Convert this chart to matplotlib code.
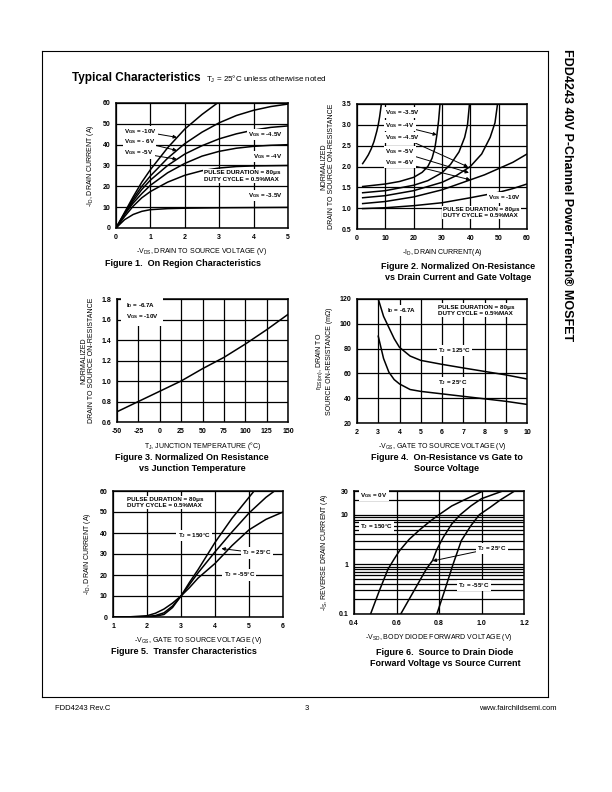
import matplotlib
matplotlib.use('Agg')
import matplotlib.pyplot as plt
from matplotlib.lines import Line2D

plt.rcParams['font.family'] = ['Liberation Sans', 'DejaVu Sans']
plt.rcParams['font.weight'] = 'bold'
plt.rcParams['mathtext.default'] = 'regular'
plt.rcParams['axes.unicode_minus'] = False

# ---- Figure 1: on region characteristics
f1_x = [0, 0.25, 0.5, 0.75, 1, 1.5, 2, 2.5, 3, 3.5, 4, 4.5, 5]
f1_10v_x = [0, 0.25, 0.5, 0.75, 1, 1.5, 2, 2.5, 2.95]
f1_10v = [0, 7.5, 15, 22, 28, 38.5, 47.5, 54.5, 60]
f1_6v = [0, 7, 14, 20, 25, 33.5, 40.5, 46, 50.5, 54, 56.5, 58.3, 59.5]
f1_5v = [0, 6.8, 13, 18.5, 23, 30, 35.5, 39.5, 42.8, 45.2, 47, 48.3, 49]
f1_45v = [0, 6.5, 12, 16.5, 20.5, 26.5, 31, 34.5, 36.8, 38.3, 39.2, 39.7, 40]
f1_4v = [0, 5.5, 10.5, 14.5, 17.5, 22, 25.3, 27.5, 28.8, 29.5, 29.8, 29.9, 30]
f1_35v = [0, 4, 6.5, 8, 8.8, 9.3, 9.5, 9.6, 9.7, 9.75, 9.8, 9.85, 9.9]

# ---- Figure 2: normalized on-resistance vs drain current
f2_35v_x = [2, 3, 4, 5, 6, 7, 7.5, 8, 8.3, 8.6]
f2_35v = [2.07, 2.17, 2.28, 2.42, 2.6, 2.85, 3.0, 3.2, 3.35, 3.5]
f2_4v_x = [2, 10, 15, 20, 23, 25, 26.5, 27.5, 28.2, 28.8, 29.3]
f2_4v = [1.52, 1.58, 1.64, 1.74, 1.86, 2.0, 2.2, 2.45, 2.76, 3.1, 3.5]
f2_45v_x = [2, 10, 20, 25, 30, 33, 36, 38, 39, 39.7]
f2_45v = [1.37, 1.42, 1.55, 1.66, 1.85, 2.05, 2.35, 2.7, 3.0, 3.5]
f2_5v_x = [2, 10, 20, 30, 35, 40, 44, 47, 48.7, 49.6]
f2_5v = [1.25, 1.3, 1.42, 1.62, 1.78, 2.0, 2.3, 2.7, 3.05, 3.5]
f2_6v_x = [2, 10, 20, 30, 40, 45, 50, 55, 60]
f2_6v = [1.11, 1.16, 1.27, 1.44, 1.68, 1.8, 1.95, 2.1, 2.3]
f2_10v_x = [2, 10, 20, 30, 40, 50, 55, 60]
f2_10v = [0.99, 1.01, 1.06, 1.13, 1.25, 1.38, 1.47, 1.58]

# ---- Figure 3: normalized on-resistance vs temperature
f3_t = [-50, -25, 0, 25, 50, 75, 100, 125, 150]
f3_r = [0.70, 0.80, 0.90, 1.0, 1.12, 1.23, 1.36, 1.50, 1.65]

# ---- Figure 4: on-resistance vs gate voltage
f4_vgs = [3, 3.25, 3.5, 3.75, 4, 4.5, 5, 6, 7, 8, 9, 10]
f4_125 = [120, 106, 97, 88, 81, 74, 70.5, 67.3, 64.4, 61.6, 58.8, 55.5]
f4_25 = [90, 72, 61, 55, 51.5, 47, 45.5, 43.5, 41.5, 39.5, 37.5, 35]

# ---- Figure 5: transfer characteristics
f5_150_x = [1, 1.5, 2, 2.25, 2.5, 2.75, 3, 3.25, 3.5, 3.75, 4, 4.5, 5, 5.5, 6]
f5_150 = [0, 0.1, 0.6, 1.8, 3.8, 6.6, 10, 14, 18.5, 22, 25.5, 34, 41.5, 46.5, 50]
f5_25_x = [1, 1.5, 2, 2.25, 2.5, 2.75, 3, 3.25, 3.5, 3.75, 4, 4.5, 5, 5.5, 5.75]
f5_25 = [0, 0, 0.2, 0.7, 2, 5.2, 10, 15.5, 21, 26, 31, 40.5, 49.5, 57, 60]
f5_m55_x = [1, 1.5, 2, 2.25, 2.5, 2.75, 3, 3.25, 3.5, 3.75, 4, 4.5, 5, 5.15]
f5_m55 = [0, 0, 0.1, 0.4, 1.2, 4.5, 10, 16.5, 22.5, 29, 35.5, 47, 57, 60]

# ---- Figure 6: body diode forward voltage
f6_150_v = [0.478, 0.52, 0.56, 0.59, 0.615, 0.66, 0.71, 0.76, 0.80, 0.86, 0.92, 1.0, 1.01]
f6_150_i = [0.1, 0.3, 0.8, 1.3, 1.9, 3.2, 5, 7.5, 10, 15, 20, 29, 30]
f6_25_v = [0.62, 0.66, 0.70, 0.74, 0.77, 0.79, 0.82, 0.86, 0.90, 0.95, 1.0, 1.1]
f6_25_i = [0.1, 0.2, 0.4, 0.8, 1.2, 2, 3.5, 6.5, 10, 15, 21, 30]
f6_m55_v = [0.79, 0.827, 0.866, 0.905, 0.95, 0.99, 1.04, 1.09, 1.156]
f6_m55_i = [0.1, 0.3, 1, 3, 6, 10, 14, 20, 30]

W, H = 612, 792
fig = plt.figure(figsize=(W / 100, H / 100), dpi=100)


def px_axes(x0, y0, x1, y1):
    return fig.add_axes([x0 / W, 1 - y1 / H, (x1 - x0) / W, (y1 - y0) / H])


def style(ax):
    for s in ax.spines.values():
        s.set_linewidth(1.1)
    ax.tick_params(length=0, labelsize=5, pad=4)
    ax.grid(True, color='black', linewidth=0.9)
    ax.set_axisbelow(True)


def ftext(x, y, s, **kw):
    fig.text(x / W, 1 - y / H, s, **kw)


box = dict(fc='white', ec='none', pad=0.8)
arrow = dict(arrowstyle='-|>', color='black', lw=0.7, mutation_scale=5, shrinkA=0, shrinkB=0)
lw = 1.1

# figure 1
ax = px_axes(116, 103, 288, 228)
style(ax)
ax.plot(f1_10v_x, f1_10v, 'k', lw=lw)
for ys in [f1_6v, f1_5v, f1_45v, f1_4v, f1_35v]:
    ax.plot(f1_x, ys, 'k', lw=lw)
ax.set_xlim(0, 5)
ax.set_ylim(0, 60)
ax.set_xticks(range(0, 6))
ax.set_yticks(range(0, 61, 10))
ax.set_xlabel('-V$_{DS}$, DRAIN TO SOURCE VOLTAGE (V)', fontsize=5, labelpad=4)
ax.set_ylabel('-I$_D$, DRAIN CURRENT (A)', fontsize=5, labelpad=4.5)
ax.annotate('V$_{GS}$ = -10V', xy=(1.77, 43.5), xytext=(0.23, 46.5), fontsize=4.5,
            va='center', bbox=box, arrowprops=arrow)
ax.annotate('V$_{GS}$ = - 6V', xy=(1.77, 37.2), xytext=(0.23, 41.5), fontsize=4.5,
            va='center', bbox=box, arrowprops=arrow)
ax.annotate('V$_{GS}$ = -5V', xy=(1.77, 33), xytext=(0.23, 36), fontsize=4.5,
            va='center', bbox=box, arrowprops=arrow)
ax.text(4.85, 45, 'V$_{GS}$ = -4.5V', fontsize=4.5, ha='right', va='center', bbox=box)
ax.text(4.85, 34.5, 'V$_{GS}$ = -4V', fontsize=4.5, ha='right', va='center', bbox=box)
ax.text(2.55, 25, 'PULSE DURATION = 80μs\nDUTY CYCLE = 0.5%MAX', fontsize=4.5,
        va='center', linespacing=1.3, bbox=box)
ax.text(4.85, 15.4, 'V$_{GS}$ = -3.5V', fontsize=4.5, ha='right', va='center', bbox=box)

# figure 2
ax = px_axes(357, 104, 527, 229)
style(ax)
for xs, ys in [(f2_35v_x, f2_35v), (f2_4v_x, f2_4v), (f2_45v_x, f2_45v),
               (f2_5v_x, f2_5v), (f2_6v_x, f2_6v), (f2_10v_x, f2_10v)]:
    ax.plot(xs, ys, 'k', lw=lw)
ax.set_xlim(0, 60)
ax.set_ylim(0.5, 3.5)
ax.set_xticks(range(0, 61, 10))
ax.set_yticks([0.5, 1.0, 1.5, 2.0, 2.5, 3.0, 3.5])
ax.set_yticklabels(['0.5', '1.0', '1.5', '2.0', '2.5', '3.0', '3.5'])
ax.set_xlabel('-I$_D$, DRAIN CURRENT(A)', fontsize=5, labelpad=4)
ax.set_ylabel('NORMALIZED\nDRAIN TO SOURCE ON-RESISTANCE', fontsize=5, labelpad=5,
              linespacing=1.1)
ax.text(10, 3.3, 'V$_{GS}$ = -3.5V', fontsize=4.5, va='center', bbox=box)
ax.annotate('V$_{GS}$ = -4V', xy=(28.2, 2.76), xytext=(10, 2.98), fontsize=4.5,
            va='center', bbox=box, arrowprops=arrow)
ax.annotate('V$_{GS}$ = -4.5V', xy=(39.2, 1.99), xytext=(10, 2.7), fontsize=4.5,
            va='center', bbox=box, arrowprops=arrow)
ax.annotate('V$_{GS}$ = -5V', xy=(39.5, 1.85), xytext=(10, 2.35), fontsize=4.5,
            va='center', bbox=box, arrowprops=arrow)
ax.annotate('V$_{GS}$ = -6V', xy=(40, 1.68), xytext=(10, 2.1), fontsize=4.5,
            va='center', bbox=box, arrowprops=arrow)
ax.text(58, 1.25, 'V$_{GS}$ = -10V', fontsize=4.5, ha='right', va='center', bbox=box)
ax.text(30.5, 0.9, 'PULSE DURATION = 80μs\nDUTY CYCLE = 0.5%MAX', fontsize=4.5,
        va='center', linespacing=1.3, bbox=box)

# figure 3
ax = px_axes(117, 299, 288, 422)
style(ax)
ax.plot(f3_t, f3_r, 'k', lw=lw)
ax.set_xlim(-50, 150)
ax.set_ylim(0.6, 1.8)
ax.set_xticks(range(-50, 151, 25))
ax.set_yticks([0.6, 0.8, 1.0, 1.2, 1.4, 1.6, 1.8])
ax.set_yticklabels(['0.6', '0.8', '1.0', '1.2', '1.4', '1.6', '1.8'])
ax.set_xlabel('T$_J$, JUNCTION TEMPERATURE (°C)', fontsize=5, labelpad=4)
ax.set_ylabel('NORMALIZED\nDRAIN TO SOURCE ON-RESISTANCE', fontsize=5, labelpad=5,
              linespacing=1.1)
ax.text(-40, 1.68, 'I$_D$ = -6.7A\nV$_{GS}$ = -10V', fontsize=4.5, va='center',
        linespacing=1.4, bbox=dict(fc='white', ec='none', pad=3))

# figure 4
ax = px_axes(357, 299, 527, 423)
style(ax)
ax.plot(f4_vgs, f4_125, 'k', lw=lw)
ax.plot(f4_vgs, f4_25, 'k', lw=lw)
ax.set_xlim(2, 10)
ax.set_ylim(20, 120)
ax.set_xticks(range(2, 11))
ax.set_yticks(range(20, 121, 20))
ax.set_xlabel('-V$_{GS}$, GATE TO SOURCE VOLTAGE (V)', fontsize=5, labelpad=4)
ax.set_ylabel('r$_{DS(on)}$, DRAIN TO\nSOURCE ON-RESISTANCE (mΩ)', fontsize=5, labelpad=5,
              linespacing=1.1)
ax.text(3.4, 110.5, 'I$_D$ = -6.7A', fontsize=4.5, va='center', bbox=box)
ax.text(5.8, 111, 'PULSE DURATION = 80μs\nDUTY CYCLE = 0.5%MAX', fontsize=4.5,
        va='center', linespacing=1.3, bbox=box)
ax.text(5.8, 78.5, 'T$_J$ = 125°C', fontsize=4.5, va='center', bbox=box)
ax.text(5.8, 53, 'T$_J$ = 25°C', fontsize=4.5, va='center', bbox=box)

# figure 5
ax = px_axes(113, 491, 283, 617)
style(ax)
ax.plot(f5_150_x, f5_150, 'k', lw=lw)
ax.plot(f5_25_x, f5_25, 'k', lw=lw)
ax.plot(f5_m55_x, f5_m55, 'k', lw=lw)
ax.set_xlim(1, 6)
ax.set_ylim(0, 60)
ax.set_xticks(range(1, 7))
ax.set_yticks(range(0, 61, 10))
ax.set_xlabel('-V$_{GS}$, GATE TO SOURCE VOLTAGE (V)', fontsize=5, labelpad=4)
ax.set_ylabel('-I$_D$, DRAIN CURRENT (A)', fontsize=5, labelpad=4.5)
ax.text(1.4, 54.5, 'PULSE DURATION = 80μs\nDUTY CYCLE = 0.5%MAX', fontsize=4.5,
        va='center', linespacing=1.3, bbox=box)
ax.text(2.9, 39, 'T$_J$ = 150°C', fontsize=4.5, va='center', bbox=box)
ax.annotate('T$_J$ = 25°C', xy=(4.19, 32.6), xytext=(4.8, 30.5), fontsize=4.5,
            va='center', bbox=box, arrowprops=arrow)
ax.text(4.25, 20, 'T$_J$ = -55°C', fontsize=4.5, va='center', bbox=box)

# figure 6
ax = px_axes(354, 491, 524, 614)
for s in ax.spines.values():
    s.set_linewidth(1.1)
ax.set_yscale('log')
ax.plot(f6_150_v, f6_150_i, 'k', lw=lw)
ax.plot(f6_25_v, f6_25_i, 'k', lw=lw)
ax.plot(f6_m55_v, f6_m55_i, 'k', lw=lw)
ax.set_xlim(0.4, 1.2)
ax.set_ylim(0.1, 30)
ax.set_xticks([0.4, 0.6, 0.8, 1.0, 1.2])
ax.set_xticklabels(['0.4', '0.6', '0.8', '1.0', '1.2'])
ax.set_yticks([0.1, 1, 10, 30])
ax.set_yticklabels(['0.1', '1', '10', '30'])
ax.set_yticks([0.2, 0.3, 0.4, 0.5, 0.6, 0.7, 0.8, 0.9, 2, 3, 4, 5, 6, 7, 8, 9, 20], minor=True)
ax.tick_params(which='both', length=0, labelsize=5, pad=4)
ax.yaxis.set_minor_formatter(plt.NullFormatter())
ax.grid(True, which='both', axis='y', color='black', linewidth=0.9)
ax.grid(True, which='major', axis='x', color='black', linewidth=0.9)
ax.set_axisbelow(True)
ax.set_xlabel('-V$_{SD}$, BODY DIODE FORWARD VOLTAGE (V)', fontsize=5, labelpad=4)
ax.set_ylabel('-I$_S$, REVERSE DRAIN CURRENT (A)', fontsize=5, labelpad=6)
ax.text(0.43, 24, 'V$_{GS}$ = 0V', fontsize=4.5, va='center', bbox=box)
ax.text(0.43, 5.7, 'T$_J$ = 150°C', fontsize=4.5, va='center', bbox=box)
ax.annotate('T$_J$ = 25°C', xy=(0.77, 1.17), xytext=(0.98, 2.1), fontsize=4.5,
            va='center', bbox=box, arrowprops=arrow)
ax.text(0.89, 0.38, 'T$_J$ = -55°C', fontsize=4.5, va='center', bbox=box)

# captions
cap = dict(fontsize=6.5, ha='center', va='center', linespacing=1.15)
ftext(183, 263, 'Figure 1.  On Region Characteristics', **cap)
ftext(458, 272, 'Figure 2. Normalized On-Resistance\nvs Drain Current and Gate Voltage', **cap)
ftext(192, 463, 'Figure 3. Normalized On Resistance\nvs Junction Temperature', **cap)
ftext(447, 463, 'Figure 4.  On-Resistance vs Gate to\nSource Voltage', **cap)
ftext(184, 652, 'Figure 5.  Transfer Characteristics', **cap)
ftext(445, 658, 'Figure 6.  Source to Drain Diode\nForward Voltage vs Source Current', **cap)

# header and title
ftext(72, 78, 'Typical Characteristics', fontsize=8.5, va='center')
ftext(206, 79, 'T$_J$ = 25°C unless otherwise noted', fontsize=5.8, weight='normal', va='center')
ftext(567, 195, 'FDD4243 40V P-Channel PowerTrench® MOSFET', fontsize=9, rotation=-90,
      ha='center', va='center')

# page frame and footer
for xs, ys in [([42, 548], [51, 51]), ([42, 42], [51, 697]), ([42, 548], [697, 697]),
               ([548, 548], [51, 697])]:
    fig.add_artist(Line2D([x / W for x in xs], [1 - y / H for y in ys], color='black', lw=0.8))
ftext(55, 709, 'FDD4243 Rev.C', fontsize=5.5, weight='normal', va='center')
ftext(307, 709, '3', fontsize=5.5, weight='normal', va='center', ha='center')
ftext(557, 709, 'www.fairchildsemi.com', fontsize=5.5, weight='normal', va='center', ha='right')

fig.savefig('out.png', dpi=100)
